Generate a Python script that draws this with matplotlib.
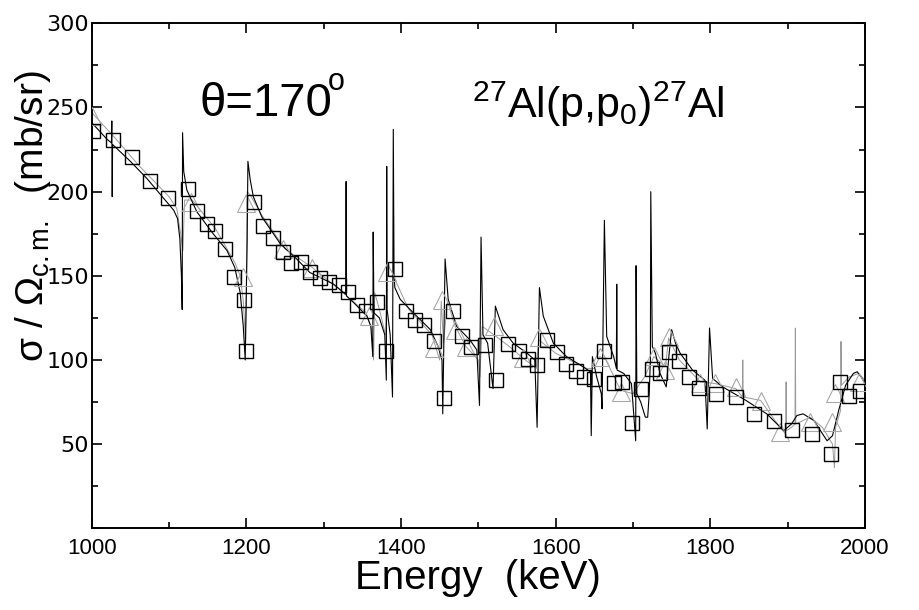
import numpy as np
import matplotlib
matplotlib.use("Agg")
import matplotlib.pyplot as plt
from matplotlib.ticker import MultipleLocator, FixedLocator

# experimental points (squares)
exp_e = [1002, 1027, 1052, 1075, 1099, 1124, 1136, 1149, 1160, 1172, 1184, 1197, 1199,
         1210, 1222, 1234, 1247, 1258, 1271, 1282, 1295, 1307, 1320, 1331, 1343, 1355,
         1369, 1381, 1392, 1407, 1418, 1430, 1443, 1455, 1467, 1479, 1490, 1508, 1523,
         1539, 1552, 1564, 1576, 1589, 1602, 1614, 1626, 1637, 1650, 1662, 1675, 1686,
         1699, 1711, 1724, 1735, 1747, 1760, 1772, 1785, 1808, 1833, 1857, 1882, 1906,
         1932, 1956, 1968, 1980, 1993]
exp_sig = [236, 230.6, 220.7, 206.4, 196, 201.5, 188.6, 181, 176.7, 165.7, 149.4, 135.6, 105.5,
           194, 179.7, 172.6, 163.9, 157.4, 158.3, 152.4, 148.5, 146.4, 144.5, 140.1, 132.6, 129,
           134.6, 105.5, 154, 129.2, 123.7, 120.7, 111.4, 77.6, 129.2, 114.2, 107.8, 108.8, 88,
           109.4, 105.5, 100.4, 97, 111.8, 104.5, 97.6, 93.6, 89.7, 88.5, 105.3, 86.1, 87.1,
           62.7, 82.5, 94.6, 92, 104.9, 99.3, 90, 83.1, 79.8, 77.8, 67.9, 63.7, 58.4,
           56, 44.1, 87.1, 78.8, 81.7]

# second data set (triangles)
tri_e = [1001, 1129, 1196, 1200, 1248, 1285, 1358, 1382, 1443, 1453, 1470, 1484, 1520,
         1558, 1579, 1657, 1684, 1727, 1742, 1746, 1787, 1806, 1833, 1865, 1890, 1929,
         1958, 1961, 1992]
tri_sig = [245, 194, 149, 193, 166, 154.5, 126, 152.4, 107, 135.6, 117.8, 107.8, 120,
           101, 113.4, 101.9, 81.1, 102.3, 94, 113.4, 86.5, 86.1, 83.7, 75.8, 57.4, 63.3,
           63.3, 80.2, 87.1]

# calculation 1 (black line)
calc1_e = [1000, 1020, 1025.5, 1026, 1026.5, 1027, 1050, 1071, 1095, 1106, 1111, 1114, 1116,
           1117, 1117.5, 1119, 1123, 1136, 1157, 1175, 1185, 1192, 1196, 1198.5, 1201, 1202,
           1205, 1209, 1220, 1244, 1265, 1282, 1313, 1328.5, 1329, 1329.5, 1339, 1356, 1361,
           1363.5, 1364, 1365, 1372, 1379, 1381, 1381.5, 1382, 1386, 1389, 1390, 1391, 1392,
           1399, 1416, 1438, 1448, 1453, 1454, 1457, 1461, 1472, 1489, 1498, 1501.5, 1503.5,
           1506, 1512, 1519, 1522, 1532, 1545, 1563, 1573, 1576, 1579, 1584, 1597, 1614,
           1632, 1645, 1646, 1647.5, 1653, 1659, 1660, 1663, 1666, 1675, 1678.5, 1679, 1679.5,
           1688, 1698, 1703.5, 1704, 1705, 1710, 1716, 1719, 1721, 1722.5, 1723, 1725, 1729,
           1735, 1743, 1747, 1750, 1755, 1761, 1777, 1793, 1796, 1799, 1803, 1816, 1846,
           1873, 1895, 1905, 1912, 1920, 1934, 1951, 1958, 1966, 1975, 1985, 1990, 1995, 2000]
calc1_sig = [241, 231, 229, 242, 197, 228, 218, 208, 195, 189, 184, 172, 150,
             130, 235, 212, 201, 188, 175, 165, 155, 140, 120, 100, 170, 218,
             207, 197, 185, 169, 160, 152, 145, 139, 206, 138, 134, 126, 120,
             102, 176, 128, 125, 115, 88, 215, 130, 115, 78, 237, 150, 143,
             136, 128, 118, 108, 100, 68, 160, 136, 120, 112, 106, 73, 173,
             115, 110, 83, 132, 118, 110, 104, 100, 60, 143, 126, 110, 102,
             97, 93, 55, 102, 90, 80, 71, 183, 114, 102, 95, 145, 94,
             92, 86, 52, 156, 80, 75, 66, 66, 80, 100, 200, 108, 104,
             92, 84, 105, 118, 110, 104, 94, 88, 59, 119, 89, 84, 76,
             68, 58, 62, 67, 68, 64, 52, 55, 70, 85, 92, 93, 90, 86]

# calculation 2 (grey line)
calc2_e = [1000, 1030, 1060, 1100, 1110, 1115, 1118, 1120, 1130, 1160, 1185, 1192, 1196,
           1199, 1200, 1201, 1205, 1220, 1250, 1285, 1320, 1355, 1362, 1364.5, 1366, 1372,
           1380, 1382, 1390, 1410, 1440, 1450, 1452, 1455, 1460, 1470, 1484, 1500, 1502,
           1505, 1520, 1540, 1558, 1575, 1578, 1600, 1640, 1650, 1657, 1665, 1684, 1700,
           1715, 1727, 1742, 1746, 1760, 1787, 1806, 1833, 1841.5, 1842, 1842.5, 1865, 1890,
           1897.5, 1898, 1898.5, 1905, 1909.5, 1910, 1910.5, 1929, 1945, 1958, 1960.5, 1962,
           1968.5, 1969, 1969.5, 1980, 1992, 2000]
calc2_sig = [247, 232, 216, 197, 190, 175, 165, 195, 195, 178, 158, 150, 135,
             110, 140, 200, 198, 186, 166, 155, 142, 128, 118, 100, 140, 130,
             115, 150, 150, 130, 115, 100, 135, 110, 135, 120, 108, 100, 90,
             120, 115, 108, 101, 95, 112, 104, 95, 95, 102, 100, 82, 80,
             90, 102, 96, 113, 100, 87, 86, 83, 78, 100, 78, 76, 60,
             56, 87, 58, 60, 62, 119, 62, 66, 60, 50, 36, 60,
             70, 111, 85, 90, 92, 88]

plt.rcParams['font.family'] = ['Liberation Sans', 'DejaVu Sans']
plt.rcParams['mathtext.fontset'] = 'custom'
plt.rcParams['mathtext.rm'] = 'Liberation Sans'
plt.rcParams['mathtext.it'] = 'Liberation Sans:italic'

fig = plt.figure(figsize=(9.19, 6.10), dpi=100)
ax = fig.add_axes([0.0998, 0.1339, 0.8414, 0.8279])

ax.plot(calc2_e, calc2_sig, color='#9a9a9a', lw=0.7, zorder=2)
ax.plot(calc1_e, calc1_sig, color='black', lw=0.8, zorder=3)
ax.plot(tri_e, tri_sig, linestyle='none', marker='^', markersize=13,
        markerfacecolor='none', markeredgecolor='#a8a8a8', markeredgewidth=0.8, zorder=4)
ax.plot(exp_e, exp_sig, linestyle='none', marker='s', markersize=10,
        markerfacecolor='none', markeredgecolor='black', markeredgewidth=1.0, zorder=5)

ax.set_xlim(1000, 2000)
ax.set_ylim(0, 300)
ax.xaxis.set_major_locator(MultipleLocator(200))
ax.xaxis.set_minor_locator(MultipleLocator(100))
ax.yaxis.set_major_locator(FixedLocator([50, 100, 150, 200, 250, 300]))
ax.yaxis.set_minor_locator(MultipleLocator(25))
ax.tick_params(which='both', direction='in', top=True, right=True, width=1.2)
ax.tick_params(which='major', length=7)
ax.tick_params(which='minor', length=4.5)
ax.tick_params(axis='x', which='major', labelsize=16, pad=7)
ax.tick_params(axis='y', which='major', pad=2)
for lab in ax.get_yticklabels():
    lab.set_fontfamily('DejaVu Sans')
    lab.set_fontsize(16)
for s in ax.spines.values():
    s.set_linewidth(1.4)

ax.set_xlabel('Energy  (keV)', fontsize=29, labelpad=0)
# y label sits over the tick labels, as in the original
fig.text(0.036, 0.645, r'σ / Ω$_{\mathrm{c.m.}}$  (mb/sr)', rotation=90,
         fontsize=28, ha='center', va='center')

ax.text(1140, 252, 'θ=170', fontsize=34, ha='left', va='center')
ax.text(1305, 265, 'o', fontsize=22, ha='left', va='center')
ax.text(1492, 252, r'$^{27}$Al(p,p$_0$)$^{27}$Al', fontsize=31, ha='left', va='center')

fig.savefig('out.png', dpi=100)
